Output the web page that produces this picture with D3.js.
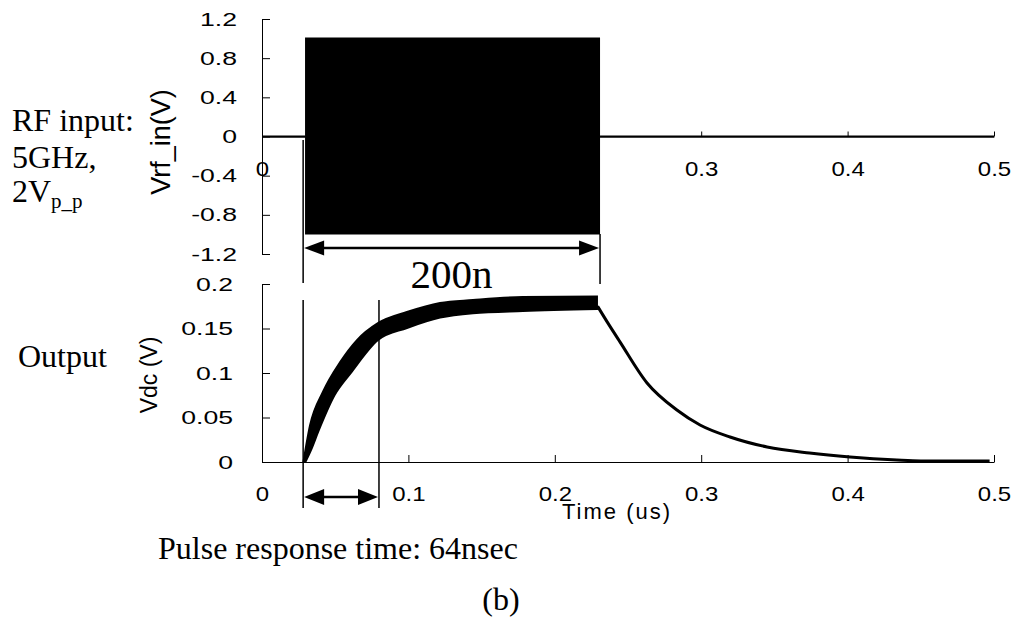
<!DOCTYPE html>
<html>
<head>
<meta charset="utf-8">
<script src="https://cdn.jsdelivr.net/npm/d3@7"></script>
<style>
body { margin: 0; background: #fff; }
.serif { font-family: "Liberation Serif", "Times New Roman", serif; fill: #000; }
.sans { font-family: "Liberation Sans", Arial, sans-serif; fill: #000; }
</style>
</head>
<body>
<div id="chart"></div>
<script>
// x axis (time, us)
var timeTicks = [0, 0.1, 0.2, 0.3, 0.4, 0.5];
var rfTicks = [1.2, 0.8, 0.4, 0, -0.4, -0.8, -1.2];
var vdcTicks = [0, 0.05, 0.1, 0.15, 0.2];

// RF input: zero outside the burst, 5GHz envelope of +-1V inside
var rfZeroBefore = [0, 0.0294];
var rfZeroAfter = [0.2309, 0.5];
var rfEnvTime = [0.0294, 0.08, 0.15, 0.2309];
var rfEnvUpper = [1.01, 1.01, 1.01, 1.01];
var rfEnvLower = [-1.0, -1.0, -1.0, -1.0];

// Output during the burst: ripple band, upper and lower edge
var upperTime = [0.0283, 0.0328, 0.0417, 0.0533, 0.0649, 0.0792, 0.099, 0.1216, 0.1441, 0.178, 0.2288];
var upperVdc = [0, 0.041, 0.079, 0.112, 0.137, 0.156, 0.1685, 0.1787, 0.182, 0.1854, 0.186];
var lowerTime = [0.0296, 0.0336, 0.0386, 0.0495, 0.0611, 0.0792, 0.099, 0.1216, 0.1441, 0.1783, 0.2288];
var lowerVdc = [0, 0.014, 0.035, 0.075, 0.101, 0.137, 0.1505, 0.1622, 0.1672, 0.1697, 0.1719];

// Output after the burst: decay
var decayTime = [0.2292, 0.2363, 0.2445, 0.263, 0.2834, 0.2992, 0.3197, 0.345, 0.374, 0.4016, 0.4337, 0.45, 0.497];
var decayVdc = [0.175, 0.156, 0.135, 0.0888, 0.0584, 0.0416, 0.0281, 0.0169, 0.0101, 0.0056, 0.0022, 0.0012, 0.001];

// annotation times
var burstStart = 0.0281;
var burstEnd = 0.2309;
var respEnd = 0.0799;

var W = 1015, H = 621;
var svg = d3.select('#chart').append('svg').attr('width', W).attr('height', H);

var x = d3.scaleLinear().domain([0, 0.5]).range([262, 994]);
var yRf = d3.scaleLinear().domain([-1.2, 1.2]).range([254, 19]);
var yDc = d3.scaleLinear().domain([0, 0.2]).range([462, 284]);

var fmt = function(d) { return String(d); };
var labelSx = 1.4;

function styleAxis(g) {
	g.selectAll('path, line').attr('stroke', '#000').attr('stroke-width', 1);
	g.selectAll('text').attr('fill', '#000').attr('class', 'sans');
}

// top x axis
var xTop = svg.append('g')
	.attr('transform', 'translate(0,' + yRf(0) + ')')
	.call(d3.axisBottom(x).tickValues(timeTicks).tickFormat(fmt).tickSize(-5).tickSizeOuter(0).tickPadding(25));
styleAxis(xTop);
xTop.selectAll('text').attr('font-size', 20).attr('transform', 'scale(1.2,1)');

var yTop = svg.append('g')
	.attr('transform', 'translate(262,0)')
	.call(d3.axisLeft(yRf).tickValues(rfTicks).tickFormat(fmt).tickSize(-8).tickSizeOuter(0));
styleAxis(yTop);
yTop.selectAll('text').attr('font-size', 19).attr('x', -25 / labelSx).attr('transform', 'scale(' + labelSx + ',1)');

// bottom axes
var xBot = svg.append('g')
	.attr('transform', 'translate(0,' + yDc(0) + ')')
	.call(d3.axisBottom(x).tickValues(timeTicks).tickFormat(fmt).tickSize(-7).tickSizeOuter(0).tickPadding(25));
styleAxis(xBot);
xBot.selectAll('text').attr('font-size', 20).attr('transform', 'scale(1.2,1)');

var yBot = svg.append('g')
	.attr('transform', 'translate(262,0)')
	.call(d3.axisLeft(yDc).tickValues(vdcTicks).tickFormat(fmt).tickSize(-8).tickSizeOuter(0));
styleAxis(yBot);
yBot.selectAll('text').attr('font-size', 19).attr('x', -29 / labelSx).attr('transform', 'scale(' + labelSx + ',1)');

// RF input trace
var zeroLine = d3.line().x(function(d) { return x(d); }).y(yRf(0));
svg.append('path').attr('d', zeroLine(rfZeroBefore)).attr('fill', 'none').attr('stroke', '#000').attr('stroke-width', 2);
svg.append('path').attr('d', zeroLine(rfZeroAfter)).attr('fill', 'none').attr('stroke', '#000').attr('stroke-width', 2);

var rfArea = d3.area()
	.x(function(d, i) { return x(rfEnvTime[i]); })
	.y0(function(d, i) { return yRf(rfEnvLower[i]); })
	.y1(function(d, i) { return yRf(rfEnvUpper[i]); });
svg.append('path').attr('d', rfArea(rfEnvTime)).attr('fill', '#000');

// Output trace
var bandArea = d3.area()
	.x0(function(d, i) { return x(lowerTime[i]); })
	.x1(function(d, i) { return x(upperTime[i]); })
	.y0(function(d, i) { return yDc(lowerVdc[i]); })
	.y1(function(d, i) { return yDc(upperVdc[i]); })
	.curve(d3.curveMonotoneX);
svg.append('path').attr('d', bandArea(upperTime)).attr('fill', '#000').attr('stroke', '#000').attr('stroke-width', 2);

var decayLine = d3.line()
	.x(function(d, i) { return x(decayTime[i]); })
	.y(function(d, i) { return yDc(decayVdc[i]); })
	.curve(d3.curveMonotoneX);
svg.append('path').attr('d', decayLine(decayTime)).attr('fill', 'none').attr('stroke', '#000').attr('stroke-width', 3);

// annotations
function vline(t, y1, y2) {
	svg.append('line').attr('x1', x(t)).attr('x2', x(t)).attr('y1', y1).attr('y2', y2)
		.attr('stroke', '#000').attr('stroke-width', 1.5);
}
function arrow(t1, t2, yy, len, half) {
	var a = x(t1) + 1, b = x(t2) - 1;
	svg.append('line').attr('x1', a + len - 2).attr('x2', b - len + 2).attr('y1', yy).attr('y2', yy)
		.attr('stroke', '#000').attr('stroke-width', 2.5);
	svg.append('path').attr('fill', '#000')
		.attr('d', 'M' + a + ',' + yy + 'L' + (a + len) + ',' + (yy - half) + 'L' + (a + len) + ',' + (yy + half) + 'Z');
	svg.append('path').attr('fill', '#000')
		.attr('d', 'M' + b + ',' + yy + 'L' + (b - len) + ',' + (yy - half) + 'L' + (b - len) + ',' + (yy + half) + 'Z');
}

vline(burstStart, 140, 283);
vline(burstEnd, 234, 284);
arrow(burstStart, burstEnd, 248, 20, 7.5);

vline(burstStart, 300, 508);
vline(respEnd, 300, 508);
arrow(burstStart, respEnd, 497, 20, 8);

svg.append('text').attr('class', 'serif').attr('x', x((burstStart + burstEnd) / 2)).attr('y', 288)
	.attr('text-anchor', 'middle').attr('font-size', 41).text('200n');

// axis titles
svg.append('text').attr('class', 'sans').attr('font-size', 27).attr('text-anchor', 'middle')
	.attr('transform', 'translate(170,142) rotate(-90)').text('Vrf_in(V)');
svg.append('text').attr('class', 'sans').attr('font-size', 23).attr('text-anchor', 'middle')
	.attr('transform', 'translate(157,375) rotate(-90)').text('Vdc (V)');
svg.append('text').attr('class', 'sans').attr('font-size', 22).attr('letter-spacing', 2)
	.attr('x', 562).attr('y', 519).text('Time (us)');

// side notes
svg.append('text').attr('class', 'serif').attr('font-size', 32).attr('x', 12).attr('y', 131).text('RF input:');
svg.append('text').attr('class', 'serif').attr('font-size', 32).attr('x', 12).attr('y', 168).text('5GHz,');
var vpp = svg.append('text').attr('class', 'serif').attr('font-size', 32).attr('x', 12).attr('y', 202);
vpp.append('tspan').text('2V');
vpp.append('tspan').attr('font-size', 21).attr('dy', 6).text('p_p');
svg.append('text').attr('class', 'serif').attr('font-size', 32).attr('x', 18).attr('y', 367).text('Output');
svg.append('text').attr('class', 'serif').attr('font-size', 32).attr('x', 158).attr('y', 559).text('Pulse response time: 64nsec');
svg.append('text').attr('class', 'serif').attr('font-size', 32).attr('x', 501).attr('y', 610)
	.attr('text-anchor', 'middle').text('(b)');
</script>
</body>
</html>
